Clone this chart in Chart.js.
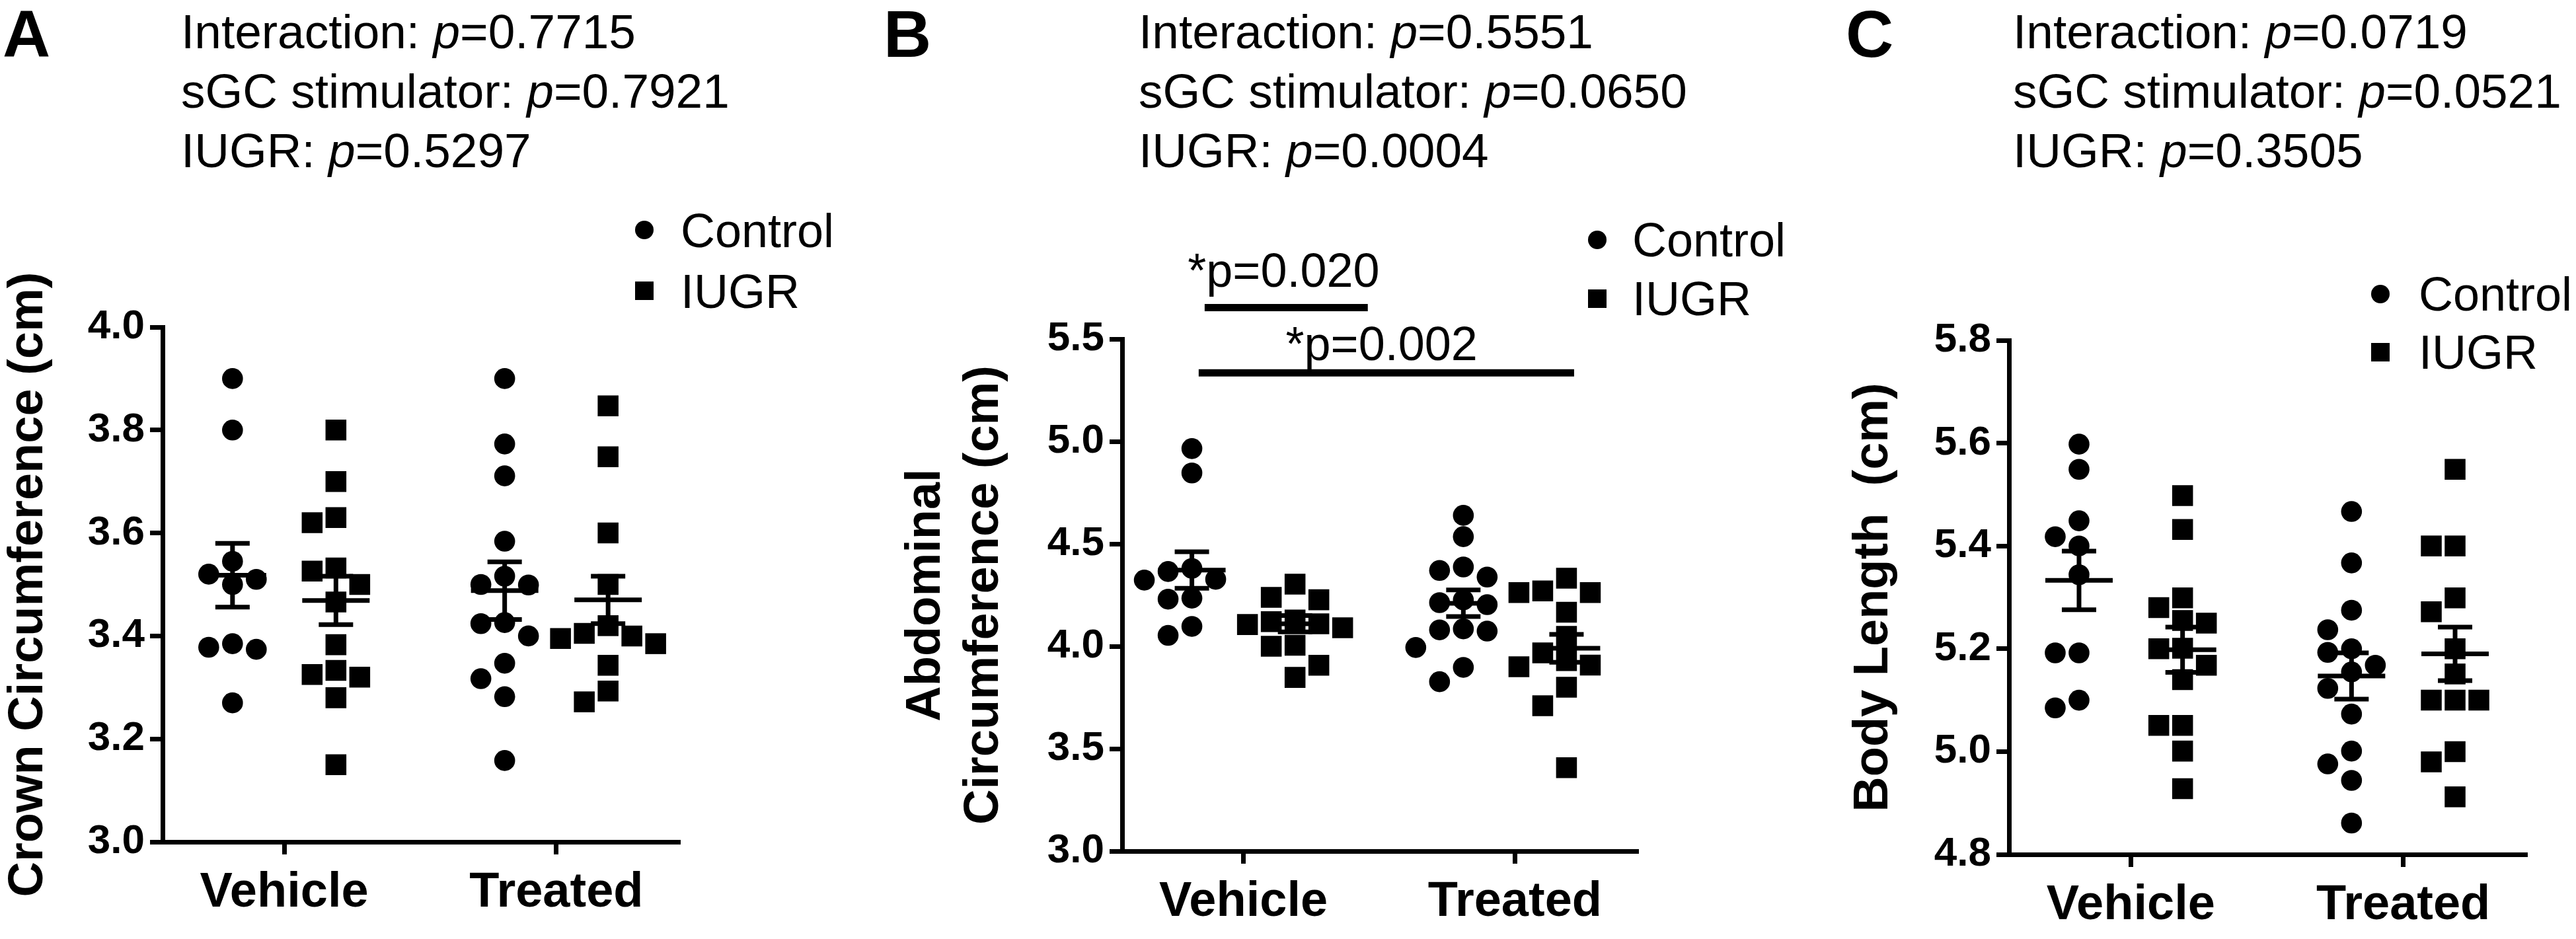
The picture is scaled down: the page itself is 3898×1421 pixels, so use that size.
<!DOCTYPE html>
<html>
<head>
<meta charset="utf-8">
<script src="https://cdn.jsdelivr.net/npm/chart.js@4.4.1/dist/chart.umd.min.js"></script>
<style>
  html, body { margin: 0; padding: 0; background: #fff; }
  body { width: 3898px; height: 1421px; position: relative; overflow: hidden;
         font-family: "Liberation Sans", Arial, sans-serif; color: #000; }
  .letter { position: absolute; top: 1px; font-weight: bold; font-size: 100px; line-height: 100px; }
  .hdr { position: absolute; top: 3px; font-size: 73px; line-height: 90px; white-space: nowrap; }
  canvas { position: absolute; top: 0; }
</style>
</head>
<body>
<canvas id="cA"></canvas>
<canvas id="cB"></canvas>
<canvas id="cC"></canvas>
<script>
// ---------------- data ----------------
const categories = ['Vehicle', 'Treated'];
const seriesNames = ['Control', 'IUGR'];
const statNames = ['Interaction', 'sGC stimulator', 'IUGR'];

// Panel A: crown circumference (cm)
const crownControlVehicle = [3.90, 3.80, 3.545, 3.52, 3.51, 3.50, 3.385, 3.378, 3.374, 3.27];
const crownControlTreated = [3.90, 3.773, 3.711, 3.584, 3.516, 3.50, 3.499, 3.426, 3.424, 3.40, 3.347, 3.317, 3.282, 3.158];
const crownIugrVehicle = [3.80, 3.70, 3.63, 3.62, 3.532, 3.526, 3.50, 3.466, 3.383, 3.333, 3.325, 3.32, 3.28, 3.15];
const crownIugrTreated = [3.847, 3.748, 3.60, 3.50, 3.42, 3.405, 3.40, 3.395, 3.385, 3.343, 3.293, 3.272];
const crownMeanControl = [3.518, 3.488];
const crownSemControl = [0.062, 0.056];
const crownMeanIugr = [3.469, 3.470];
const crownSemIugr = [0.047, 0.046];
const crownTicks = [3.0, 3.2, 3.4, 3.6, 3.8, 4.0];
const crownP = ['0.7715', '0.7921', '0.5297'];

// Panel B: abdominal circumference (cm)
const abdControlVehicle = [4.965, 4.846, 4.38, 4.365, 4.327, 4.323, 4.235, 4.23, 4.097, 4.053];
const abdControlTreated = [4.639, 4.535, 4.387, 4.37, 4.338, 4.226, 4.213, 4.203, 4.085, 4.08, 4.074, 3.994, 3.897, 3.827];
const abdIugrVehicle = [4.303, 4.239, 4.227, 4.128, 4.12, 4.11, 4.106, 4.09, 4.005, 4.0, 3.907, 3.848];
const abdIugrTreated = [4.332, 4.27, 4.262, 4.262, 4.166, 4.048, 3.968, 3.93, 3.908, 3.90, 3.80, 3.71, 3.407];
const abdMeanControl = [4.372, 4.21];
const abdSemControl = [0.089, 0.065];
const abdMeanIugr = [4.11, 3.99];
const abdSemIugr = [0.04, 0.068];
const abdTicks = [3.0, 3.5, 4.0, 4.5, 5.0, 5.5];
const abdP = ['0.5551', '0.0650', '0.0004'];
const abdBracketLabels = ['*p=0.020', '*p=0.002'];

// Panel C: body length (cm)
const bodyControlVehicle = [5.598, 5.549, 5.449, 5.418, 5.40, 5.344, 5.192, 5.192, 5.10, 5.085];
const bodyControlTreated = [5.467, 5.367, 5.275, 5.237, 5.20, 5.193, 5.168, 5.155, 5.123, 5.073, 5.001, 4.976, 4.944, 4.861];
const bodyIugrVehicle = [5.498, 5.432, 5.299, 5.28, 5.255, 5.25, 5.201, 5.20, 5.168, 5.14, 5.051, 5.051, 5.001, 4.928];
const bodyIugrTreated = [5.549, 5.40, 5.40, 5.299, 5.272, 5.20, 5.151, 5.10, 5.10, 5.10, 5.00, 4.98, 4.912];
const bodyMeanControl = [5.333, 5.147];
const bodySemControl = [0.057, 0.045];
const bodyMeanIugr = [5.198, 5.19];
const bodySemIugr = [0.044, 0.052];
const bodyTicks = [4.8, 5.0, 5.2, 5.4, 5.6, 5.8];
const bodyP = ['0.0719', '0.0521', '0.3505'];

// ---------------- layout ----------------
const H = 1421;
const FONT = '"Liberation Sans", Arial, sans-serif';
const X_MIN = 0.553, X_MAX = 2.447, GROUP_OFF = 0.19;

const panels = [
  { id: 'cA', letter: 'A', letterX: 4, headerX: 274, left: 0, width: 1300,
    area: { left: 246, right: 1026, top: 495, bottom: 1274 },
    yMin: 3.0, yMax: 4.0, ticks: crownTicks, title: 'Crown Circumference (cm)', titlePad: 0,
    ctrl: [crownControlVehicle, crownControlTreated], iugr: [crownIugrVehicle, crownIugrTreated],
    meanC: crownMeanControl, semC: crownSemControl, meanI: crownMeanIugr, semI: crownSemIugr,
    p: crownP, legend: { mx: 975, tx: 1030, my: [348, 440], base: [374, 466] }, brackets: [] },
  { id: 'cB', letter: 'B', letterX: 1337, headerX: 1723, left: 1300, width: 1420,
    area: { left: 1698, right: 2476, top: 513, bottom: 1288 },
    yMin: 3.0, yMax: 5.5, ticks: abdTicks, title: ['Abdominal', 'Circumference (cm)'], titlePad: 58,
    ctrl: [abdControlVehicle, abdControlTreated], iugr: [abdIugrVehicle, abdIugrTreated],
    meanC: abdMeanControl, semC: abdSemControl, meanI: abdMeanIugr, semI: abdSemIugr,
    p: abdP, legend: { mx: 2417, tx: 2470, my: [363, 452], base: [388, 477] },
    brackets: [
      { label: abdBracketLabels[0], from: 0.857, to: 1.458, level: 5.653, textX: 1.148, textY: 5.756 },
      { label: abdBracketLabels[1], from: 0.835, to: 2.218, level: 5.335, textX: 1.509, textY: 5.398 }
    ] },
  { id: 'cC', letter: 'C', letterX: 2793, headerX: 3046, left: 2700, width: 1198,
    area: { left: 3040, right: 3821, top: 515, bottom: 1293 },
    yMin: 4.8, yMax: 5.8, ticks: bodyTicks, title: 'Body Length  (cm)', titlePad: 92,
    ctrl: [bodyControlVehicle, bodyControlTreated], iugr: [bodyIugrVehicle, bodyIugrTreated],
    meanC: bodyMeanControl, semC: bodySemControl, meanI: bodyMeanIugr, semI: bodySemIugr,
    p: bodyP, legend: { mx: 3602, tx: 3660, my: [445, 533], base: [470, 558] }, brackets: [] }
];

// beeswarm-style spreading of overlapping symbols (layout only)
function swarm(values, center, pxPerX, pxPerY) {
  const step = 36 / pxPerX, minGap = 32;
  const placed = [];
  const order = [0, -1, 1, -2, 2, -3, 3, -4, 4];
  return values.map(v => {
    for (const k of order) {
      const ok = placed.every(p => p.k !== k || Math.abs(p.v - v) * pxPerY >= minGap);
      if (ok) { placed.push({ k, v }); return { x: center + k * step, y: v }; }
    }
    return { x: center, y: v };
  });
}

const extrasPlugin = {
  id: 'panelExtras',
  afterDatasetsDraw(chart, args, o) {
    const { ctx } = chart;
    const xs = chart.scales.x, ys = chart.scales.y;
    const seg = (x1, y1, x2, y2) => { ctx.beginPath(); ctx.moveTo(x1, y1); ctx.lineTo(x2, y2); ctx.stroke(); };
    ctx.save();
    ctx.strokeStyle = '#000'; ctx.fillStyle = '#000'; ctx.lineCap = 'butt';
    // mean ± SEM
    o.summary.forEach(s => {
      const cx = xs.getPixelForValue(s.x);
      const my = ys.getPixelForValue(s.mean);
      const t = ys.getPixelForValue(s.mean + s.sem);
      const b = ys.getPixelForValue(s.mean - s.sem);
      ctx.lineWidth = 7;
      seg(cx - 51, my, cx + 51, my);
      seg(cx, t, cx, b);
      seg(cx - 26, t, cx + 26, t);
      seg(cx - 26, b, cx + 26, b);
    });
    // significance brackets
    ctx.font = '72px ' + FONT;
    ctx.textAlign = 'center'; ctx.textBaseline = 'alphabetic';
    o.brackets.forEach(br => {
      ctx.lineWidth = 11;
      const yy = ys.getPixelForValue(br.level);
      seg(xs.getPixelForValue(br.from), yy, xs.getPixelForValue(br.to), yy);
      ctx.fillText(br.label, xs.getPixelForValue(br.textX), ys.getPixelForValue(br.textY));
    });
    // legend
    const L = o.legend;
    ctx.textAlign = 'left';
    seriesNames.forEach((name, i) => {
      const mx = L.mx - o.left, my = L.my[i];
      ctx.beginPath();
      if (i === 0) { ctx.arc(mx, my, 14, 0, Math.PI * 2); ctx.fill(); }
      else { ctx.fillRect(mx - 14, my - 14, 28, 28); }
      ctx.fillText(name, L.tx - o.left, L.base[i]);
    });
    ctx.restore();
  }
};

panels.forEach(P => {
  // letter + header text
  const let_ = document.createElement('div');
  let_.className = 'letter'; let_.style.left = P.letterX + 'px'; let_.textContent = P.letter;
  document.body.appendChild(let_);
  const hdr = document.createElement('div');
  hdr.className = 'hdr'; hdr.style.left = P.headerX + 'px';
  hdr.innerHTML = statNames.map((n, i) => n + ': <i>p</i>=' + P.p[i]).join('<br>');
  document.body.appendChild(hdr);

  const cv = document.getElementById(P.id);
  cv.width = P.width; cv.height = H;
  cv.style.left = P.left + 'px';
  cv.style.width = P.width + 'px'; cv.style.height = H + 'px';

  const A = P.area;
  const pxPerX = (A.right - A.left) / (X_MAX - X_MIN);
  const pxPerY = (A.bottom - A.top) / (P.yMax - P.yMin);
  const ctrlPts = [], iugrPts = [];
  categories.forEach((c, g) => {
    ctrlPts.push(...swarm(P.ctrl[g], g + 1 - GROUP_OFF, pxPerX, pxPerY));
    iugrPts.push(...swarm(P.iugr[g], g + 1 + GROUP_OFF, pxPerX, pxPerY));
  });
  const summary = [];
  categories.forEach((c, g) => {
    summary.push({ x: g + 1 - GROUP_OFF, mean: P.meanC[g], sem: P.semC[g] });
    summary.push({ x: g + 1 + GROUP_OFF, mean: P.meanI[g], sem: P.semI[g] });
  });

  const gridOpts = { drawOnChartArea: false, drawTicks: true, tickLength: 19, tickWidth: 7,
                     tickColor: '#000', color: '#000', lineWidth: 7 };
  const borderOpts = { display: true, width: 7, color: '#000' };

  new Chart(cv, {
    type: 'scatter',
    data: { datasets: [
      { label: seriesNames[0], data: ctrlPts, pointStyle: 'circle', pointRadius: 15.8,
        backgroundColor: '#000', borderWidth: 0 },
      { label: seriesNames[1], data: iugrPts, pointStyle: 'rect', pointRadius: 22.3,
        backgroundColor: '#000', borderWidth: 0 }
    ] },
    options: {
      responsive: false, animation: false, events: [], devicePixelRatio: 1,
      layout: { padding: { left: 0, top: A.top, right: P.width - (A.right - P.left), bottom: 0 } },
      plugins: {
        legend: { display: false }, tooltip: { enabled: false },
        panelExtras: { summary, brackets: P.brackets, legend: P.legend, left: P.left }
      },
      scales: {
        x: {
          type: 'linear', min: X_MIN, max: X_MAX,
          afterBuildTicks: s => { s.ticks = categories.map((c, i) => ({ value: i + 1 })); },
          afterFit: s => { s.height = H - A.bottom; },
          ticks: { callback: (v, i) => categories[i], font: { family: FONT, size: 74, weight: 'bold' },
                   color: '#000', padding: 14, autoSkip: false, maxRotation: 0 },
          grid: gridOpts, border: borderOpts
        },
        y: {
          type: 'linear', min: P.yMin, max: P.yMax,
          afterBuildTicks: s => { s.ticks = P.ticks.map(v => ({ value: v })); },
          afterFit: s => { s.width = A.left - P.left; },
          ticks: { callback: v => Number(v).toFixed(1), font: { family: FONT, size: 62, weight: 'bold' },
                   color: '#000', padding: 8, autoSkip: false },
          grid: gridOpts, border: borderOpts,
          title: { display: true, text: P.title, color: '#000',
                   font: { family: FONT, size: 74, weight: 'bold', lineHeight: 1.19 },
                   padding: { top: P.titlePad, bottom: 0 } }
        }
      }
    },
    plugins: [extrasPlugin]
  });
});
</script>
</body>
</html>
